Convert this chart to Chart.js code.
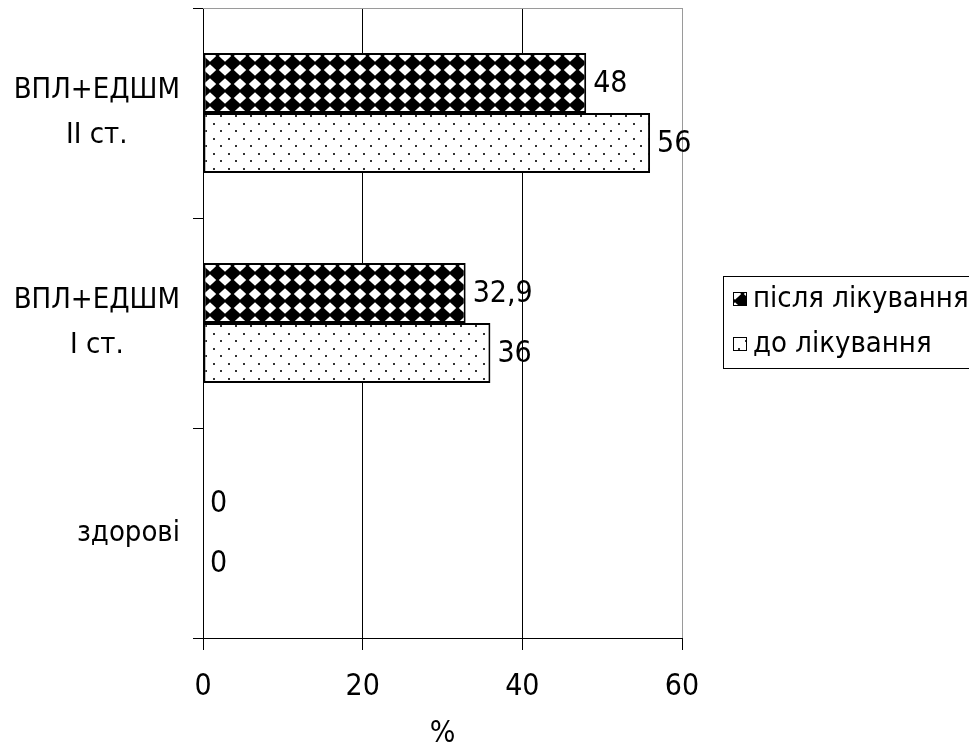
<!DOCTYPE html>
<html>
<head>
<meta charset="utf-8">
<script src="https://cdn.jsdelivr.net/npm/chart.js@4/dist/chart.umd.min.js"></script>
<style>
  html, body { margin: 0; padding: 0; background: #fff; }
  #wrap { width: 969px; height: 749px; position: relative; }
</style>
</head>
<body>
<div id="wrap"><canvas id="c"></canvas></div>
<script>
const categories = [['ВПЛ+ЕДШМ', 'II ст.'], ['ВПЛ+ЕДШМ', 'I ст.'], ['здорові']];
const afterValues = [48, 32.9, 0];
const beforeValues = [56, 36, 0];
const seriesNames = ['після лікування', 'до лікування'];
const xTickValues = [0, 20, 40, 60];
const axisTitle = '%';

const FONT = "'DejaVu Sans Condensed', 'DejaVu Sans', sans-serif";

function makeChecker() {
  const W = 15, H = 14;
  const t = document.createElement('canvas');
  t.width = W; t.height = H;
  const g = t.getContext('2d');
  g.fillStyle = '#fff'; g.fillRect(0, 0, W, H);
  g.fillStyle = '#000';
  const r = 1.2;
  for (const dx of [-W, 0, W]) {
    for (const dy of [-H, 0, H]) {
      const cx = W / 2 + dx, cy = H / 2 + dy;
      g.beginPath();
      g.moveTo(cx, cy - H / 2 - r);
      g.lineTo(cx + W / 2 + r, cy);
      g.lineTo(cx, cy + H / 2 + r);
      g.lineTo(cx - W / 2 - r, cy);
      g.closePath();
      g.fill();
    }
  }
  return g.createPattern(t, 'repeat');
}
function makeDots() {
  const t = document.createElement('canvas');
  t.width = 15; t.height = 15;
  const g = t.getContext('2d');
  g.fillStyle = '#fff'; g.fillRect(0, 0, 15, 15);
  g.fillStyle = '#333';
  g.fillRect(3, 3, 2, 2);
  g.fillRect(10, 10, 2, 2);
  return g.createPattern(t, 'repeat');
}
const checker = makeChecker();
const dots = makeDots();

const frame = {
  id: 'frame',
  beforeDatasetsDraw(chart) {
    const a = chart.chartArea, ctx = chart.ctx;
    ctx.save();
    ctx.strokeStyle = '#9a9a9a';
    ctx.lineWidth = 1;
    ctx.beginPath();
    ctx.moveTo(a.left, a.top + 0.5);
    ctx.lineTo(a.right + 0.5, a.top + 0.5);
    ctx.stroke();
    ctx.restore();
  }
};

const valueLabels = {
  id: 'valueLabels',
  afterDatasetsDraw(chart) {
    const ctx = chart.ctx;
    ctx.save();
    ctx.font = '30px ' + FONT;
    ctx.fillStyle = '#000';
    ctx.textAlign = 'left';
    ctx.textBaseline = 'middle';
    chart.data.datasets.forEach((ds, di) => {
      const meta = chart.getDatasetMeta(di);
      meta.data.forEach((bar, i) => {
        const v = ds.data[i];
        ctx.fillText(String(v).replace('.', ','), bar.x + 7, bar.y + 1);
      });
    });
    ctx.restore();
  }
};

const catLabels = {
  id: 'catLabels',
  afterDraw(chart) {
    const ctx = chart.ctx;
    const ys = chart.scales.y;
    ctx.save();
    ctx.font = '29px ' + FONT;
    ctx.fillStyle = '#000';
    ctx.textAlign = 'center';
    ctx.textBaseline = 'middle';
    const lineH = 45;
    const blockRight = ys.right - 23;
    categories.forEach((lines, i) => {
      const cy = ys.getPixelForValue(i);
      const w = Math.max(...lines.map(l => ctx.measureText(l).width));
      const cx = blockRight - w / 2;
      const y0 = cy - (lines.length - 1) * lineH / 2;
      lines.forEach((l, k) => ctx.fillText(l, cx, y0 + k * lineH));
    });
    ctx.restore();
  }
};

const legendBox = {
  id: 'legendBox',
  afterDraw(chart) {
    const ctx = chart.ctx;
    ctx.save();
    ctx.strokeStyle = '#000';
    ctx.lineWidth = 1;
    ctx.strokeRect(723.5, 276.5, 246, 92);
    const fills = [checker, dots];
    const rowY = [299, 344];
    ctx.font = '29px ' + FONT;
    ctx.textAlign = 'left';
    ctx.textBaseline = 'middle';
    seriesNames.forEach((name, i) => {
      ctx.fillStyle = fills[i];
      ctx.fillRect(733, rowY[i] - 7, 14, 14);
      ctx.strokeStyle = '#000';
      ctx.strokeRect(733.5, rowY[i] - 6.5, 13, 13);
      ctx.fillStyle = '#000';
      ctx.fillText(name, 753, rowY[i]);
    });
    ctx.restore();
  }
};

new Chart(document.getElementById('c'), {
  type: 'bar',
  data: {
    labels: categories,
    datasets: [
      { label: seriesNames[0], data: afterValues, backgroundColor: checker, borderColor: '#000', borderWidth: 2, borderSkipped: false },
      { label: seriesNames[1], data: beforeValues, backgroundColor: dots, borderColor: '#000', borderWidth: 2, borderSkipped: false }
    ]
  },
  options: {
    indexAxis: 'y',
    responsive: true,
    maintainAspectRatio: false,
    devicePixelRatio: 1,
    animation: false,
    categoryPercentage: 0.571,
    barPercentage: 1,
    layout: { padding: { top: 8, right: 287, left: 0, bottom: 0 } },
    plugins: { legend: { display: false }, tooltip: { enabled: false } },
    scales: {
      x: {
        min: 0, max: 60,
        afterBuildTicks(scale) { scale.ticks = xTickValues.map(v => ({ value: v })); },
        afterFit(scale) { scale.height = 111; },
        ticks: { font: { size: 30, family: FONT }, color: '#000', padding: 19, maxRotation: 0 },
        grid: {
          color: (c) => (c.tick && c.tick.value === 60) ? '#9a9a9a' : '#000',
          tickColor: '#000',
          tickLength: 12,
          lineWidth: 1
        },
        border: { display: true, color: '#000', width: 1 },
        title: { display: true, text: axisTitle, font: { size: 30, family: FONT, lineHeight: 1 }, color: '#000', padding: { top: 0, bottom: 0 } }
      },
      y: {
        type: 'category',
        offset: true,
        afterFit(scale) { scale.width = 203; },
        ticks: { display: false },
        grid: { offset: true, drawOnChartArea: false, tickLength: 10, color: '#000' },
        border: { display: true, color: '#000', width: 1 }
      }
    }
  },
  plugins: [frame, valueLabels, catLabels, legendBox]
});
</script>
</body>
</html>
